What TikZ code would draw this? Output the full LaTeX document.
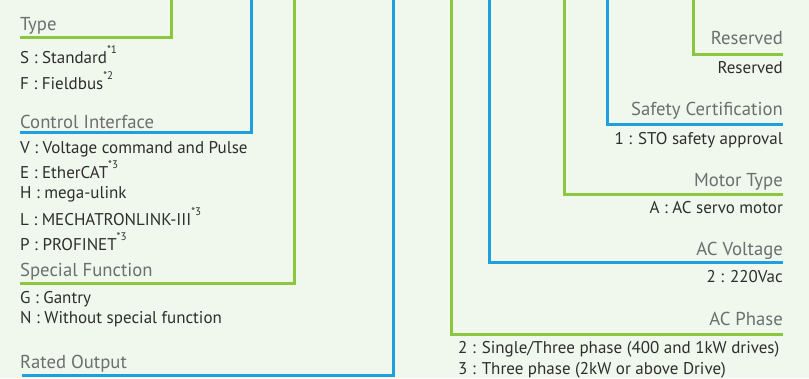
\documentclass[tikz,border=0pt]{standalone}
\usepackage{fontspec}
\setmainfont{PT Sans}
\definecolor{bg}{HTML}{F0F7EC}
\definecolor{lgreen}{HTML}{8CC63F}
\definecolor{lblue}{HTML}{1E9FE0}
\definecolor{hgray}{HTML}{6D6E70}
\definecolor{itxt}{HTML}{2E2E2E}
\newcommand{\fn}[1]{\raisebox{0.55em}{\fontsize{11}{12}\selectfont #1}}
\begin{document}
\begin{tikzpicture}[x=1pt,y=-1pt,
  gline/.style={draw=lgreen,line width=3pt},
  bline/.style={draw=lblue,line width=3pt},
  head/.style={inner sep=0pt,text=hgray,font=\fontsize{18.7}{22}\selectfont},
  item/.style={inner sep=0pt,text=itxt,font=\fontsize{17}{20}\selectfont}]
\useasboundingbox[fill=bg] (0,0) rectangle (809,378);
% left side connectors
\coordinate (g1t) at (171,0); \coordinate (g1e) at (20,37);
\coordinate (b1t) at (251,0); \coordinate (b1e) at (20,132);
\coordinate (g2t) at (294,0); \coordinate (g2e) at (20,283);
\coordinate (b2t) at (393,0); \coordinate (b2e) at (22,375);
\draw[gline] (g1t) |- (g1e);
\draw[bline] (b1t) |- (b1e);
\draw[gline] (g2t) |- (g2e);
\draw[bline] (b2t) |- (b2e);
% right side connectors
\coordinate (g3t) at (451,0); \coordinate (g3e) at (783,334);
\coordinate (b3t) at (489,0); \coordinate (b3e) at (783,262);
\coordinate (g4t) at (564,0); \coordinate (g4e) at (783,194);
\coordinate (b4t) at (607,0); \coordinate (b4e) at (783,124);
\coordinate (g5t) at (693,0); \coordinate (g5e) at (783,54);
\draw[gline] (g3t) |- (g3e);
\draw[bline] (b3t) |- (b3e);
\draw[gline] (g4t) |- (g4e);
\draw[bline] (b4t) |- (b4e);
\draw[gline] (g5t) |- (g5e);
% left headings
\node[head,anchor=base west] (type) at (20,30) {Type};
\node[head,anchor=base west] (ci) at (20,128) {Control Interface};
\node[head,anchor=base west] (sf) at (20,276) {Special Function};
\node[head,anchor=base west] (ro) at (20,368) {Rated Output};
% left items
\node[item,anchor=base west] (s) at (20,63) {S : Standard\fn{*1}};
\node[item,anchor=base west] (f) at (20,89) {F : Fieldbus\fn{*2}};
\node[item,anchor=base west] (v) at (20,153) {V : Voltage command and Pulse};
\node[item,anchor=base west] (e) at (20,178) {E : EtherCAT\fn{*3}};
\node[item,anchor=base west] (h) at (20,198) {H : mega-ulink};
\node[item,anchor=base west] (l) at (20,225) {L : MECHATRONLINK-III\fn{*3}};
\node[item,anchor=base west] (p) at (20,250) {P : PROFINET\fn{*3}};
\node[item,anchor=base west] (g) at (20,303) {G : Gantry};
\node[item,anchor=base west] (n) at (20,323) {N : Without special function};
% right headings
\node[head,anchor=base east] (res) at (783,44) {Reserved};
\node[head,anchor=base east] (sc) at (783,115) {Safety Certification};
\node[head,anchor=base east] (mt) at (783,186) {Motor Type};
\node[head,anchor=base east] (acv) at (783,255) {AC Voltage};
\node[head,anchor=base east] (acp) at (783,325) {AC Phase};
% right items
\node[item,anchor=base east] (resi) at (783,73) {Reserved};
\node[item,anchor=base east] (sto) at (783,144) {1 : STO safety approval};
\node[item,anchor=base east] (ac) at (783,213) {A : AC servo motor};
\node[item,anchor=base east] (v220) at (783,282) {2 : 220Vac};
\node[item,anchor=base west] (p2) at (458,353) {2 : Single/Three phase (400 and 1kW drives)};
\node[item,anchor=base west] (p3) at (458,374) {3 : Three phase (2kW or above Drive)};
\end{tikzpicture}
\end{document}
